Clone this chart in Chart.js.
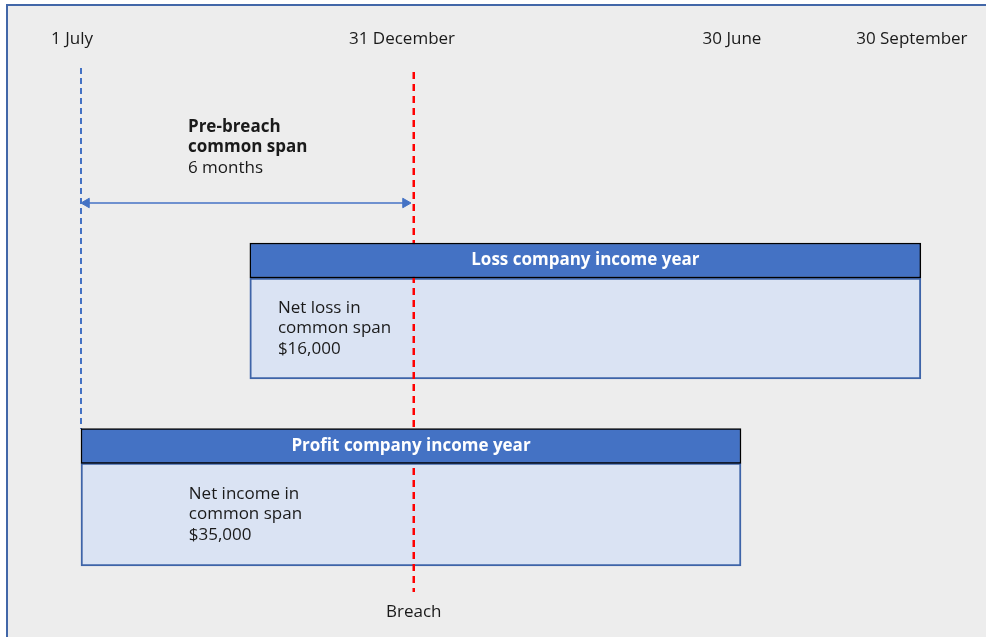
<!DOCTYPE html>
<html>
<head>
<meta charset="utf-8">
<title>Common span</title>
<script src="https://cdn.jsdelivr.net/npm/chart.js@4.4.1/dist/chart.umd.min.js"></script>
<style>
  html, body { margin: 0; padding: 0; background: #fff; }
  #wrap { position: relative; width: 986px; height: 637px; }
</style>
</head>
<body>
<div id="wrap"><canvas id="timeline"></canvas></div>
<script>
// months counted from 1 July
var dateLabels = ['1 July', '31 December', '30 June', '30 September'];
var dateTicks = [0, 6, 12, 15.27];

var companies = ['Loss company income year', 'Profit company income year'];
var yearStart = [3.07, 0];
var yearEnd = [15.27, 12];
var spanText = [['Net loss in', 'common span'], ['Net income in', 'common span']];
var spanAmount = [16000, 35000];

var breachMonth = 6.05;
var spanStart = 0;
var spanMonths = 6;

// layout (lanes on the hidden y scale, 1 unit = 50px)
var headLane = [4.21, 7.92];
var bodyLane = [5.57, 9.29];
var bodyThick = [101, 103];
var textX = [3.58, 1.96];

var FONT = '"Open Sans", "Noto Sans", sans-serif';

var datasets = [];

// headers sit on top of everything
companies.forEach(function (name, i) {
    datasets.push({
        type: 'bar',
        label: name,
        data: [{ x: [yearStart[i], yearEnd[i]], y: headLane[i] }],
        backgroundColor: '#4472C4',
        borderColor: '#000000',
        borderWidth: 1.5,
        borderSkipped: false,
        barThickness: 35,
        grouped: false
    });
});

datasets.push({
    type: 'line',
    label: 'Breach',
    data: [{ x: breachMonth, y: 0.44 }, { x: breachMonth, y: 10.84 }],
    borderColor: '#FF0000',
    borderWidth: 2.5,
    borderDash: [7, 5],
    pointRadius: 0
});

datasets.push({
    type: 'line',
    label: '1 July',
    data: [{ x: spanStart, y: 0.36 }, { x: spanStart, y: 7.58 }],
    borderColor: '#4472C4',
    borderWidth: 2,
    borderDash: [6, 4],
    pointRadius: 0
});

// span arrow, heads are triangle points
var inset = 0.1;
datasets.push({
    type: 'line',
    label: 'Pre-breach common span',
    data: [{ x: spanStart + inset, y: 3.06 }, { x: spanStart + spanMonths - inset, y: 3.06 }],
    borderColor: '#4472C4',
    borderWidth: 1.5,
    pointStyle: 'triangle',
    pointRotation: [-90, 90],
    pointRadius: 5.5,
    pointBackgroundColor: '#4472C4',
    pointBorderColor: '#4472C4',
    pointBorderWidth: 1
});

companies.forEach(function (name, i) {
    datasets.push({
        type: 'bar',
        label: name + ' (body)',
        data: [{ x: [yearStart[i], yearEnd[i]], y: bodyLane[i] }],
        backgroundColor: '#DAE3F3',
        borderColor: '#3E64A8',
        borderWidth: 2,
        borderSkipped: false,
        barThickness: bodyThick[i],
        grouped: false
    });
});

var framePlugin = {
    id: 'frame',
    beforeDraw: function (chart) {
        var ctx = chart.ctx;
        ctx.save();
        ctx.fillStyle = '#ffffff';
        ctx.fillRect(0, 0, chart.width, chart.height);
        ctx.fillStyle = '#EDEDED';
        ctx.fillRect(7, 5, chart.width, chart.height);
        ctx.strokeStyle = '#4267A8';
        ctx.lineWidth = 2;
        ctx.beginPath();
        ctx.moveTo(7, chart.height);
        ctx.lineTo(7, 5);
        ctx.lineTo(chart.width, 5);
        ctx.stroke();
        ctx.restore();
    }
};

var notesPlugin = {
    id: 'notes',
    afterDatasetsDraw: function (chart) {
        var ctx = chart.ctx;
        var xs = chart.scales.x, ys = chart.scales.y;
        ctx.save();
        ctx.textBaseline = 'middle';

        // header titles
        ctx.font = 'bold 17px ' + FONT;
        ctx.fillStyle = '#ffffff';
        ctx.textAlign = 'center';
        companies.forEach(function (name, i) {
            ctx.fillText(name, xs.getPixelForValue((yearStart[i] + yearEnd[i]) / 2), ys.getPixelForValue(headLane[i]));
        });

        // body notes
        ctx.font = '17px ' + FONT;
        ctx.fillStyle = '#1a1a1a';
        ctx.textAlign = 'left';
        companies.forEach(function (name, i) {
            var lines = spanText[i].concat(['$' + spanAmount[i].toLocaleString('en-US')]);
            lines.forEach(function (t, k) {
                ctx.fillText(t, xs.getPixelForValue(textX[i]), ys.getPixelForValue(bodyLane[i]) + (k - 1) * 20.5);
            });
        });

        // span caption
        var cx = xs.getPixelForValue(1.945);
        ctx.font = 'bold 17px ' + FONT;
        ctx.fillText('Pre-breach', cx, ys.getPixelForValue(1.54));
        ctx.fillText('common span', cx, ys.getPixelForValue(1.94));
        ctx.font = '17px ' + FONT;
        ctx.fillText(spanMonths + ' months', cx, ys.getPixelForValue(2.36));

        ctx.textAlign = 'center';
        ctx.fillText('Breach', xs.getPixelForValue(breachMonth), ys.getPixelForValue(11.24));
        ctx.restore();
    }
};

new Chart(document.getElementById('timeline'), {
    data: { datasets: datasets },
    options: {
        indexAxis: 'y',
        responsive: true,
        maintainAspectRatio: false,
        animation: false,
        layout: { padding: 0, autoPadding: false },
        plugins: {
            legend: { display: false },
            tooltip: { enabled: false }
        },
        scales: {
            x: {
                type: 'linear',
                position: 'top',
                min: -1.4727,
                max: 16.4545,
                grid: { display: false, drawTicks: false },
                border: { display: false },
                afterBuildTicks: function (scale) {
                    scale.ticks = dateTicks.map(function (v) { return { value: v }; });
                },
                afterFit: function (scale) {
                    scale.height = 50;
                },
                ticks: {
                    padding: 1,
                    labelOffset: -9,
                    color: '#1a1a1a',
                    font: { family: FONT, size: 17 },
                    callback: function (value, index) { return dateLabels[index]; }
                }
            },
            y: {
                type: 'linear',
                display: false,
                reverse: true,
                offset: false,
                min: 0,
                max: 11.74
            }
        }
    },
    plugins: [framePlugin, notesPlugin]
});
</script>
</body>
</html>
